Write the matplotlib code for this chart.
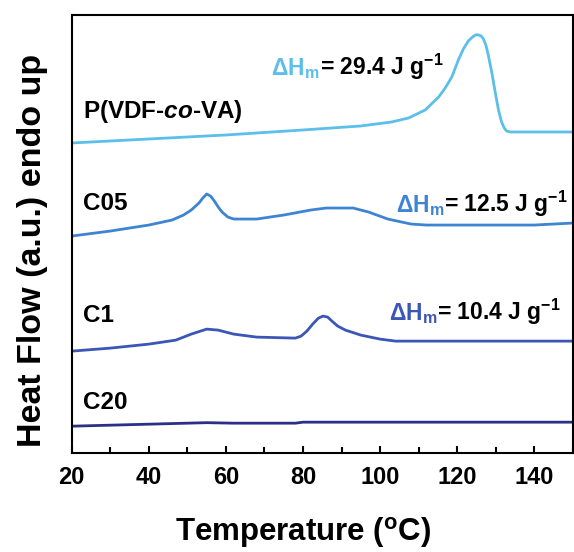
import matplotlib.pyplot as plt

plt.rcParams["font.family"] = ["Liberation Sans", "DejaVu Sans"]
plt.rcParams["font.weight"] = "bold"
plt.rcParams["axes.unicode_minus"] = False
plt.rcParams["mathtext.fontset"] = "custom"
plt.rcParams["mathtext.rm"] = "Liberation Sans:bold"
plt.rcParams["mathtext.bf"] = "Liberation Sans:bold"
plt.rcParams["mathtext.it"] = "Liberation Sans:bold:italic"

# DSC traces (heat flow in arbitrary units, curves stacked with offsets)
t_pvdf = [20, 40, 60, 80, 95, 103, 107.4, 111.7, 115.2, 116.9, 118.6, 120.3, 121.6, 122.9,
          124.0, 124.8, 125.5, 126.2, 126.8, 127.5, 128.1, 129.0, 129.8, 130.7, 131.5, 132.2,
          132.8, 133.8, 135, 150]
hf_pvdf = [310, 314, 318, 323, 327, 331, 335, 343, 356, 365, 376, 393, 404, 412,
           416, 418, 418, 417, 414, 407, 397, 380, 362, 343, 331, 325,
           322, 321, 321, 321]

t_c05 = [20, 30, 40, 46, 49, 51, 53, 54, 55, 56, 57, 58, 59, 60.5, 62, 68, 75, 82, 86, 93,
         97, 102, 108, 112, 140, 150]
hf_c05 = [217, 222, 228, 233, 238, 243, 250, 255, 259, 257, 252, 246, 241, 236, 234, 234,
          238, 243, 245, 245, 241, 234, 229, 228, 228, 230]

t_c1 = [20, 30, 40, 47, 51, 55, 58, 62, 68, 78, 79.5, 81, 82.5, 84, 85.2, 86.4, 87.5, 89,
        91, 95, 100, 104, 150]
hf_c1 = [102, 105, 109, 113, 119, 124, 123, 119, 116, 115, 117, 122, 129, 135, 137, 136,
         132, 127, 123, 118, 114, 112, 112]

t_c20 = [20, 40, 55, 62, 78, 80, 150]
hf_c20 = [27, 29, 30.5, 30, 30, 31, 31]

names = ["P(VDF-$\\mathit{co}$-VA)", "C05", "C1", "C20"]
enthalpy = [29.4, 12.5, 10.4, None]
colors = ["#5cbfea", "#3d84d2", "#3b56b6", "#2c2f86"]

fig = plt.figure(figsize=(5.74, 5.52), dpi=100)
ax = fig.add_axes([0.125, 0.179, 0.873, 0.794])

series = [(t_pvdf, hf_pvdf), (t_c05, hf_c05), (t_c1, hf_c1), (t_c20, hf_c20)]
for (t, hf), c in zip(series, colors):
    ax.plot(t, hf, color=c, lw=2.0, solid_joinstyle="round")

# sample names on the left
name_pos = [(22.9, 335), (22.9, 243), (22.9, 131), (22.9, 44)]
for name, (x, y) in zip(names, name_pos):
    ax.text(x, y, name, fontsize=17.5, fontweight="bold", va="baseline", ha="left")

# melting enthalpies
dh_pos = [(71.8, 378), (104.0, 241), (102.3, 133)]
for dh, (x, y), c in zip(enthalpy, dh_pos, colors):
    t1 = ax.text(x, y, "$\\Delta$H$_\\mathregular{m}$", color=c, fontsize=16.5,
                 fontweight="bold", va="baseline", ha="left")
    ax.annotate("= %.1f J g$^\\mathregular{-1}$" % dh, xy=(1, y), xycoords=(t1, "data"),
                fontsize=16.5, fontweight="bold", va="baseline", ha="left")

ax.set_xlim(20, 150)
ax.set_ylim(0, 438)
ax.set_xticks(range(20, 141, 20))
ax.set_xticks(range(30, 151, 20), minor=True)
ax.set_yticks([])
ax.tick_params(axis="x", which="major", direction="in", length=5, width=1.5,
               labelsize=17, pad=9)
ax.tick_params(axis="x", which="minor", direction="in", length=4, width=1.5)
for s in ax.spines.values():
    s.set_linewidth(1.5)

ax.set_xlabel("Temperature ($^\\mathregular{o}$C)", fontsize=22.5, fontweight="bold")
ax.set_ylabel("Heat Flow (a.u.) endo up", fontsize=24.5, fontweight="bold")
ax.xaxis.set_label_coords(0.462, -0.14)
ax.yaxis.set_label_coords(-0.048, 0.463)

fig.savefig("out.png", dpi=100)
